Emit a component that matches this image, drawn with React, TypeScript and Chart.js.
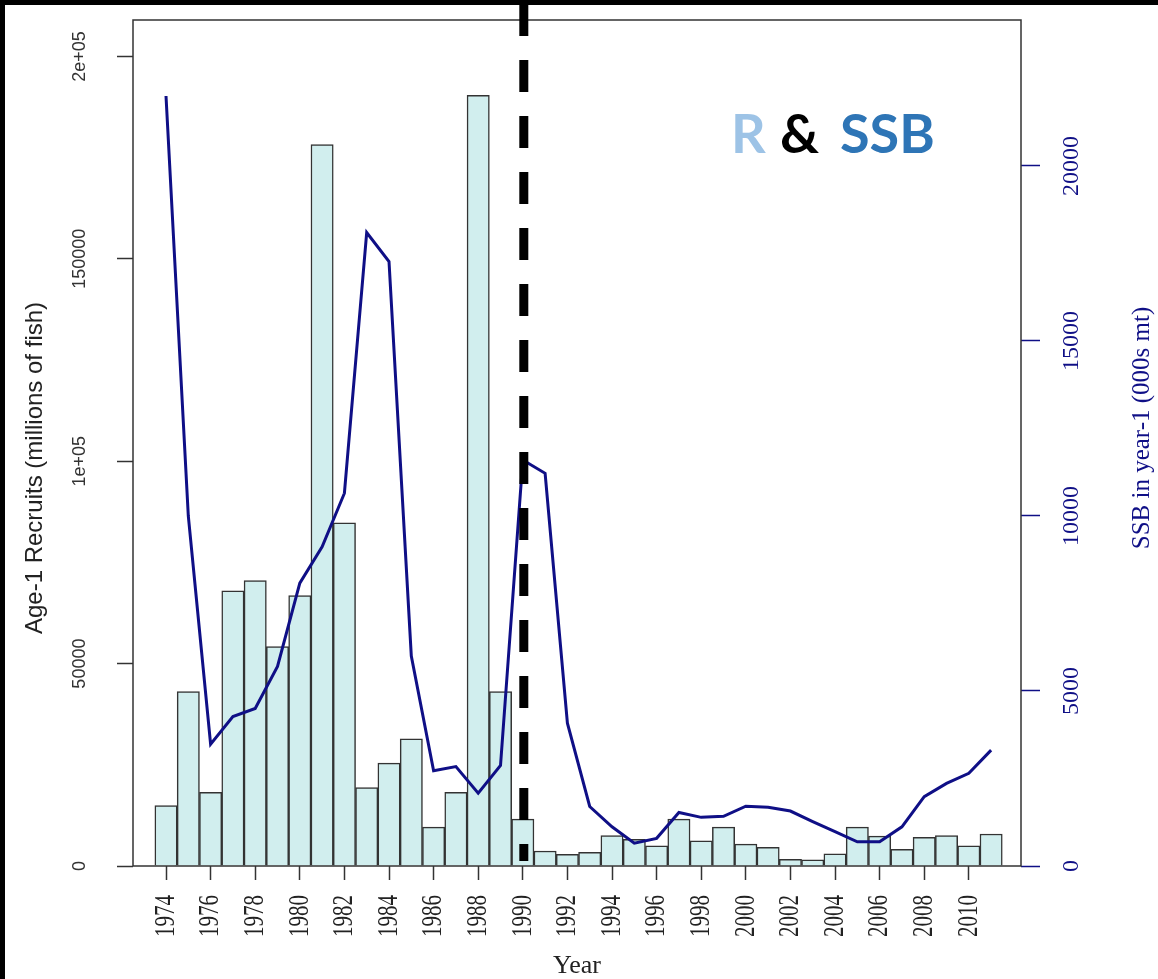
import React, { useEffect, useRef } from 'react';
import { Chart, registerables } from 'chart.js';

Chart.register(...registerables);

// ---- data ----
const years = [
  1974, 1975, 1976, 1977, 1978, 1979, 1980, 1981, 1982, 1983,
  1984, 1985, 1986, 1987, 1988, 1989, 1990, 1991, 1992, 1993,
  1994, 1995, 1996, 1997, 1998, 1999, 2000, 2001, 2002, 2003,
  2004, 2005, 2006, 2007, 2008, 2009, 2010, 2011,
];
// Age-1 recruits (millions of fish)
const recruits = [
  14900, 43100, 18200, 68000, 70500, 54200, 66800, 178200, 84800, 19400,
  25400, 31400, 9600, 18200, 190400, 43100, 11600, 3700, 2900, 3400,
  7500, 6600, 5000, 11600, 6200, 9600, 5400, 4600, 1650, 1500,
  3000, 9600, 7400, 4100, 7100, 7500, 5000, 7900,
];
// SSB in year-1 (000s mt)
const ssb = [
  22000, 10000, 3480, 4270, 4500, 5700, 8080, 9120, 10650, 18100,
  17270, 6000, 2720, 2840, 2080, 2870, 11600, 11220, 4080, 1700,
  1120, 650, 790, 1530, 1390, 1420, 1710, 1680, 1570, 1270,
  980, 690, 690, 1120, 1980, 2360, 2650, 3310,
];
const xTickYears = [
  1974, 1976, 1978, 1980, 1982, 1984, 1986, 1988, 1990, 1992,
  1994, 1996, 1998, 2000, 2002, 2004, 2006, 2008, 2010,
];
const leftTickValues = [0, 50000, 100000, 150000, 200000];
const leftTickLabels = ['0', '50000', '1e+05', '150000', '2e+05'];
const rightTickValues = [0, 5000, 10000, 15000, 20000];
const rightTickLabels = ['0', '5000', '10000', '15000', '20000'];
const dividerYear = 1990;

const W = 1158;
const H = 979;
const NAVY = '#0f0f86';
const SERIF = '"Liberation Serif", "Times New Roman", serif';
const SANS = '"Liberation Sans", Arial, sans-serif';
const LEFT_TICK_FONT = { family: SANS, size: 18 };
const RIGHT_TICK_FONT = { family: SERIF, size: 24 };

function measure(text: string, font: { family: string; size: number }) {
  const c = document.createElement('canvas').getContext('2d')!;
  c.font = `${font.size}px ${font.family}`;
  return c.measureText(text).width;
}

const decorPlugin = {
  id: 'decor',
  beforeDraw(chart: any) {
    const ctx = chart.ctx;
    ctx.save();
    ctx.fillStyle = '#ffffff';
    ctx.fillRect(0, 0, W, H);
    ctx.fillStyle = '#000000';
    ctx.fillRect(0, 0, W, 5);
    ctx.fillRect(0, 0, 5, H);
    ctx.restore();
  },
  afterDraw(chart: any) {
    const ctx = chart.ctx;
    const a = chart.chartArea;
    const xs = chart.scales.x;
    ctx.save();
    // plot box
    ctx.strokeStyle = '#333333';
    ctx.lineWidth = 1.5;
    ctx.strokeRect(a.left, a.top, a.right - a.left, a.bottom - a.top);
    // dashed divider
    const dx = xs.getPixelForValue(dividerYear) + 1;
    ctx.strokeStyle = '#000000';
    ctx.lineWidth = 9;
    ctx.setLineDash([32, 24]);
    ctx.beginPath();
    ctx.moveTo(dx, 4);
    ctx.lineTo(dx, 861);
    ctx.stroke();
    ctx.setLineDash([]);
    ctx.restore();

    // x tick labels (rotated, read bottom to top, slightly widened glyphs)
    xs.ticks.forEach((t: any) => {
      const px = xs.getPixelForValue(t.value);
      ctx.save();
      ctx.translate(px, 895);
      ctx.rotate(-Math.PI / 2);
      ctx.scale(1, 1.4);
      ctx.fillStyle = '#222222';
      ctx.font = `21px ${SERIF}`;
      ctx.textAlign = 'right';
      ctx.textBaseline = 'middle';
      ctx.fillText(String(t.value), 0, 0);
      ctx.restore();
    });

    // left axis title
    ctx.save();
    ctx.translate(35, 468);
    ctx.rotate(-Math.PI / 2);
    ctx.fillStyle = '#222222';
    ctx.font = `24px ${SANS}`;
    ctx.textAlign = 'center';
    ctx.textBaseline = 'middle';
    ctx.fillText('Age-1 Recruits (millions of fish)', 0, 0);
    ctx.restore();

    // right axis title (reads bottom to top)
    ctx.save();
    ctx.translate(1142, 428);
    ctx.rotate(-Math.PI / 2);
    ctx.fillStyle = NAVY;
    ctx.font = `25px ${SERIF}`;
    ctx.textAlign = 'center';
    ctx.textBaseline = 'middle';
    ctx.fillText('SSB in year-1 (000s mt)', 0, 0);
    ctx.restore();

    // R & SSB label
    ctx.save();
    ctx.font = 'bold 54px Lato, "Open Sans", sans-serif';
    ctx.textBaseline = 'alphabetic';
    ctx.textAlign = 'left';
    ctx.fillStyle = '#9DC3E6';
    ctx.fillText('R', 731, 153);
    ctx.fillStyle = '#000000';
    ctx.fillText('&', 780, 153);
    ctx.fillStyle = '#2E75B6';
    ctx.fillText('SSB', 840, 153);
    ctx.restore();
  },
};

export default function App() {
  const ref = useRef<HTMLCanvasElement | null>(null);

  useEffect(() => {
    if (!ref.current) return;
    const leftWidest = Math.max(...leftTickLabels.map((t) => measure(t, LEFT_TICK_FONT)));
    const rightWidest = Math.max(...rightTickLabels.map((t) => measure(t, RIGHT_TICK_FONT)));
    // label centres: left at x=80, right at x=1072
    const leftPad = 133 - 16 - 80 - leftWidest / 2;
    const rightPad = 1072 - 1021 - 19 - rightWidest / 2;

    const chart = new Chart(ref.current, {
      type: 'bar',
      data: {
        datasets: [
          {
            type: 'line',
            label: 'SSB',
            data: years.map((y, i) => ({ x: y, y: ssb[i] })),
            borderColor: NAVY,
            borderWidth: 3,
            pointRadius: 0,
            tension: 0,
            fill: false,
            yAxisID: 'y1',
            xAxisID: 'x',
            order: 0,
          } as any,
          {
            type: 'bar',
            label: 'Recruits',
            data: years.map((y, i) => ({ x: y, y: recruits[i] })),
            backgroundColor: '#D1EEEE',
            borderColor: '#333333',
            borderWidth: 1.5,
            categoryPercentage: 1,
            barPercentage: 1,
            yAxisID: 'y',
            xAxisID: 'x',
            order: 1,
          } as any,
        ],
      },
      options: {
        animation: false,
        responsive: false,
        devicePixelRatio: 1,
        layout: { padding: { top: 20, left: 0, right: 0, bottom: 0 } },
        plugins: {
          legend: { display: false },
          tooltip: { enabled: false },
        },
        scales: {
          x: {
            type: 'linear',
            position: 'bottom',
            offset: false,
            min: 1972.52,
            max: 2012.34,
            afterBuildTicks: (s: any) => {
              s.ticks = xTickYears.map((v) => ({ value: v }));
            },
            afterFit: (s: any) => {
              s.height = 113;
            },
            grid: {
              display: true,
              offset: false,
              drawOnChartArea: false,
              drawTicks: true,
              tickLength: 14,
              tickColor: '#333333',
              tickWidth: 1.5,
            },
            border: { display: false },
            ticks: { display: false, autoSkip: false },
            title: {
              display: true,
              text: 'Year',
              color: '#222222',
              font: { family: SERIF, size: 26, lineHeight: 1 },
              padding: { top: 0, bottom: 0 },
            },
          },
          y: {
            type: 'linear',
            position: 'left',
            min: 0,
            max: 209000,
            afterBuildTicks: (s: any) => {
              s.ticks = leftTickValues.map((v) => ({ value: v }));
            },
            afterFit: (s: any) => {
              s.width = 133;
            },
            grid: {
              display: true,
              drawOnChartArea: false,
              drawTicks: true,
              tickLength: 16,
              tickColor: '#333333',
              tickWidth: 1.5,
            },
            border: { display: false },
            ticks: {
              minRotation: 90,
              maxRotation: 90,
              crossAlign: 'center',
              padding: leftPad,
              color: '#333333',
              font: LEFT_TICK_FONT,
              callback: (v: any) => leftTickLabels[leftTickValues.indexOf(Number(v))],
            },
          },
          y1: {
            type: 'linear',
            position: 'right',
            min: 0,
            max: 24171,
            afterBuildTicks: (s: any) => {
              s.ticks = rightTickValues.map((v) => ({ value: v }));
            },
            afterFit: (s: any) => {
              s.width = 137;
            },
            grid: {
              display: true,
              drawOnChartArea: false,
              drawTicks: true,
              tickLength: 19,
              tickColor: NAVY,
              tickWidth: 1.5,
            },
            border: { display: false },
            ticks: {
              minRotation: 90,
              maxRotation: 90,
              crossAlign: 'center',
              padding: rightPad,
              color: NAVY,
              font: RIGHT_TICK_FONT,
              callback: (v: any) => rightTickLabels[rightTickValues.indexOf(Number(v))],
            },
          },
        },
      } as any,
      plugins: [decorPlugin],
    });
    return () => chart.destroy();
  }, []);

  return (
    <div style={{ position: 'fixed', left: 0, top: 0, width: W, height: H, background: '#fff' }}>
      <canvas ref={ref} width={W} height={H} style={{ width: W, height: H, display: 'block' }} />
    </div>
  );
}
